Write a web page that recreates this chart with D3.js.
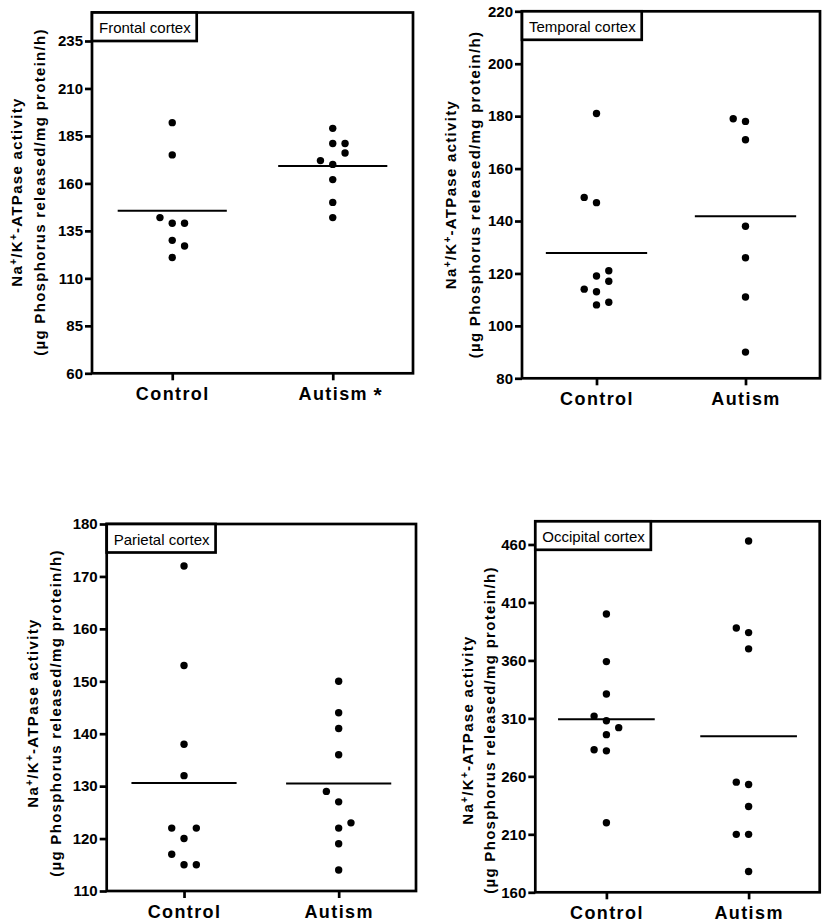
<!DOCTYPE html>
<html><head><meta charset="utf-8">
<script src="https://cdn.jsdelivr.net/npm/d3@7"></script>
<style>
body{margin:0;background:#fff;}
svg{display:block;}
text{font-family:"Liberation Sans",Arial,Helvetica,sans-serif;fill:#000;}
</style>
</head><body>
<svg id="chart" width="834" height="924"></svg>
<script>
// ---------- DATA ----------
const categories = ["Control", "Autism"];
const panelTitles = ["Frontal cortex", "Temporal cortex", "Parietal cortex", "Occipital cortex"];
const significance = ["*", "", "", ""];

const frontalControl = [192, 175, 142, 139, 139, 130, 127, 121];
const frontalControlCols = [0, 0, -1, 0, 1, 0, 1, 0];
const frontalAutism = [189, 181, 181, 176, 172, 170, 162, 150, 142];
const frontalAutismCols = [0, 0, 1, 1, -1, 0, 0, 0, 0];
const frontalTicks = [60, 85, 110, 135, 160, 185, 210, 235];
const frontalDomain = [60, 250];

const temporalControl = [181, 149, 147, 121, 119, 117, 114, 113, 109, 108];
const temporalControlCols = [0, -1, 0, 1, 0, 1, -1, 0, 1, 0];
const temporalAutism = [179, 178, 171, 138, 126, 111, 90];
const temporalAutismCols = [-1, 0, 0, 0, 0, 0, 0];
const temporalTicks = [80, 100, 120, 140, 160, 180, 200, 220];
const temporalDomain = [80, 220];

const parietalControl = [172, 153, 138, 132, 122, 122, 120, 117, 115, 115];
const parietalControlCols = [0, 0, 0, 0, -1, 1, 0, -1, 0, 1];
const parietalAutism = [150, 144, 141, 136, 129, 127, 123, 122, 119, 114];
const parietalAutismCols = [0, 0, 0, 0, -1, 0, 1, 0, 0, 0];
const parietalTicks = [110, 120, 130, 140, 150, 160, 170, 180];
const parietalDomain = [110, 180];

const occipitalControl = [400, 359, 331, 312, 308, 302, 296, 283, 282, 220];
const occipitalControlCols = [0, 0, 0, -1, 0, 1, 0, -1, 0, 0];
const occipitalAutism = [463, 388, 384, 370, 255, 253, 234, 210, 210, 178];
const occipitalAutismCols = [0, -1, 0, 0, -1, 0, 0, -1, 0, 0];
const occipitalTicks = [160, 210, 260, 310, 360, 410, 460];
const occipitalDomain = [160, 480];

// ---------- LAYOUT ----------
const panels = [
  {title: panelTitles[0], sig: significance[0], series: [[frontalControl, frontalControlCols], [frontalAutism, frontalAutismCols]],
   ticks: frontalTicks, domain: frontalDomain,
   box: {left: 92, right: 413, top: 12.5, bottom: 373.3}, lab1: -70, lab2: -47.5, labY: 192},
  {title: panelTitles[1], sig: significance[1], series: [[temporalControl, temporalControlCols], [temporalAutism, temporalAutismCols]],
   ticks: temporalTicks, domain: temporalDomain,
   box: {left: 522, right: 820, top: 11.3, bottom: 378.3}, lab1: -66, lab2: -42.5, labY: 194.5},
  {title: panelTitles[2], sig: significance[2], series: [[parietalControl, parietalControlCols], [parietalAutism, parietalAutismCols]],
   ticks: parietalTicks, domain: parietalDomain,
   box: {left: 106.7, right: 416, top: 524, bottom: 891}, lab1: -69, lab2: -45.7, labY: 713},
  {title: panelTitles[3], sig: significance[3], series: [[occipitalControl, occipitalControlCols], [occipitalAutism, occipitalAutismCols]],
   ticks: occipitalTicks, domain: occipitalDomain,
   box: {left: 535.3, right: 819.7, top: 521.3, bottom: 892.3}, lab1: -62.3, lab2: -40, labY: 730}
];

const svg = d3.select("#chart");
const FRAME_W = 2.7;
const COL_STEP = 12.3;
const R = 3.7;
const FONT = '"Liberation Sans",Arial,sans-serif';

panels.forEach(p => {
  const b = p.box;
  const g = svg.append("g");
  const y = d3.scaleLinear().domain(p.domain).range([b.bottom, b.top]);
  const x = d3.scalePoint().domain(categories).range([b.left, b.right]).padding(0.5);
  const step = x.step();

  // y axis
  const ya = g.append("g").attr("transform", `translate(${b.left},0)`)
    .call(d3.axisLeft(y).tickValues(p.ticks).tickSize(7).tickPadding(2).tickFormat(d3.format("d")));
  ya.attr("font-size", null).attr("font-family", null);
  ya.select(".domain").remove();
  ya.selectAll(".tick line").attr("stroke", "#000").attr("stroke-width", FRAME_W);
  ya.selectAll(".tick text").style("font-size", "15px").style("font-weight", "bold")
    .style("font-family", FONT).attr("fill", "#000");

  // x axis
  const xa = g.append("g").attr("transform", `translate(0,${b.bottom})`)
    .call(d3.axisBottom(x).tickSize(7).tickPadding(7));
  xa.attr("font-size", null).attr("font-family", null);
  xa.select(".domain").remove();
  xa.selectAll(".tick line").attr("stroke", "#000").attr("stroke-width", FRAME_W);
  xa.selectAll(".tick text").style("font-size", "18px").style("font-weight", "bold")
    .style("letter-spacing", "1.4px")
    .style("font-family", FONT).attr("fill", "#000");

  // significance marker
  if (p.sig) {
    const lbl = xa.selectAll(".tick text").filter(d => d === categories[1]);
    const w = lbl.node().getComputedTextLength();
    g.append("text").attr("x", x(categories[1]) + w / 2 + 6).attr("y", b.bottom + 29)
      .style("font-size", "21px").style("font-weight", "bold").text(p.sig);
  }

  // frame
  g.append("rect").attr("x", b.left).attr("y", b.top)
    .attr("width", b.right - b.left).attr("height", b.bottom - b.top)
    .attr("fill", "none").attr("stroke", "#000").attr("stroke-width", FRAME_W);

  // dots + mean lines
  p.series.forEach(([vals, cols], i) => {
    const cx = x(categories[i]);
    g.append("g").selectAll("circle").data(vals).join("circle")
      .attr("cx", (d, j) => cx + cols[j] * COL_STEP)
      .attr("cy", d => y(d))
      .attr("r", R).attr("fill", "#000");
    const m = d3.mean(vals);
    g.append("line")
      .attr("x1", cx - 0.34 * step).attr("x2", cx + 0.34 * step)
      .attr("y1", y(m)).attr("y2", y(m))
      .attr("stroke", "#000").attr("stroke-width", 2);
  });

  // title box
  const tb = g.append("rect")
    .attr("x", b.left).attr("y", b.top).attr("height", 28.5)
    .attr("fill", "#fff").attr("stroke", "#000").attr("stroke-width", FRAME_W);
  const tt = g.append("text").attr("x", b.left + 7).attr("y", b.top + 20.5)
    .style("font-size", "15px").text(p.title);
  const tw = tt.node().getComputedTextLength();
  tb.attr("width", tw + 13);

  // y label
  const l1 = g.append("text")
    .attr("transform", `translate(${b.left + p.lab1},${p.labY}) rotate(-90)`)
    .attr("text-anchor", "middle").style("font-size", "15px").style("font-weight", "bold")
    .style("letter-spacing", "1.3px");
  l1.append("tspan").text("Na");
  l1.append("tspan").attr("dy", -5).style("font-size", "10px").text("+");
  l1.append("tspan").attr("dy", 5).text("/K");
  l1.append("tspan").attr("dy", -5).style("font-size", "10px").text("+");
  l1.append("tspan").attr("dy", 5).text("-ATPase activity");

  g.append("text")
    .attr("transform", `translate(${b.left + p.lab2},${p.labY}) rotate(-90)`)
    .attr("text-anchor", "middle").style("font-size", "15px").style("font-weight", "bold")
    .style("letter-spacing", "1.3px")
    .text("(µg Phosphorus released/mg protein/h)");
});
</script>
</body></html>
